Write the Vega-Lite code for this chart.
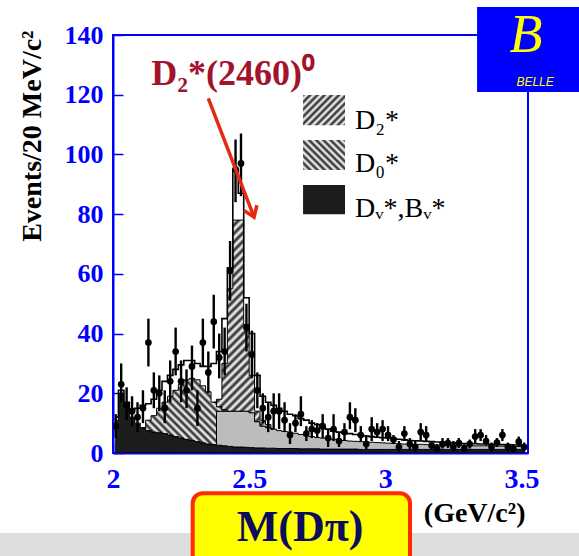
{
"$schema": "https://vega.github.io/schema/vega-lite/v6.json",
"width": 415, "height": 418,
"autosize": {"type": "none"},
"padding": {"left": 113, "top": 35, "right": 51, "bottom": 103},
"background": "#ffffff",
"config": {
 "view": {"stroke": "#0000ff", "strokeWidth": 2},
 "axis": {"grid": false, "domainColor": "#0000ff", "domainWidth": 2, "tickColor": "#0000ff", "tickWidth": 1.5, "labelColor": "#0000ff", "labelFont": "Liberation Serif", "labelFontWeight": "bold", "titleFont": "Liberation Serif", "titleFontWeight": "bold", "titleColor": "#000000", "labelOverlap": false, "labelFlush": false}
},
"data": {"values": [
{"m":2.01,"bv":11,"c":11,"d0":11,"d2":11,"fit":12,"n":9,"lo":5,"hi":13},
{"m":2.03,"bv":20,"c":20,"d0":20,"d2":20,"fit":21,"n":23,"lo":17,"hi":30},
{"m":2.05,"bv":15,"c":15,"d0":15,"d2":15,"fit":17,"n":16,"lo":11,"hi":22},
{"m":2.07,"bv":12,"c":12,"d0":12,"d2":12,"fit":14.5,"n":14,"lo":9,"hi":19},
{"m":2.09,"bv":10,"c":10,"d0":10,"d2":10,"fit":15,"n":12,"lo":7,"hi":17},
{"m":2.11,"bv":8.5,"c":8.5,"d0":8.5,"d2":8.5,"fit":16,"n":15,"lo":10,"hi":21},
{"m":2.13,"bv":7.5,"c":7.5,"d0":11,"d2":11,"fit":16.5,"n":37,"lo":29,"hi":45},
{"m":2.15,"bv":7,"c":7,"d0":12.5,"d2":12.5,"fit":18,"n":21,"lo":15,"hi":27},
{"m":2.17,"bv":6.8,"c":6.8,"d0":15,"d2":15,"fit":21,"n":20,"lo":14,"hi":26},
{"m":2.19,"bv":6.5,"c":6.5,"d0":17,"d2":17,"fit":24,"n":15,"lo":10,"hi":21},
{"m":2.21,"bv":6,"c":6,"d0":19,"d2":19,"fit":26,"n":24,"lo":17,"hi":31},
{"m":2.23,"bv":5.5,"c":5.5,"d0":21,"d2":21,"fit":28,"n":34,"lo":26,"hi":42},
{"m":2.25,"bv":5,"c":5,"d0":23,"d2":23,"fit":29.5,"n":24,"lo":17,"hi":31},
{"m":2.27,"bv":4.6,"c":4.6,"d0":24.5,"d2":24.5,"fit":31,"n":21,"lo":15,"hi":28},
{"m":2.29,"bv":4.2,"c":4.2,"d0":25,"d2":25,"fit":31,"n":29,"lo":21,"hi":36},
{"m":2.31,"bv":3.8,"c":3.8,"d0":24.5,"d2":24.5,"fit":30,"n":15,"lo":9,"hi":21},
{"m":2.33,"bv":3.4,"c":3.4,"d0":22.5,"d2":22.5,"fit":29,"n":37,"lo":29,"hi":45},
{"m":2.35,"bv":3,"c":3,"d0":20.5,"d2":20.5,"fit":29,"n":27,"lo":20,"hi":34},
{"m":2.37,"bv":2.8,"c":2.8,"d0":17,"d2":17,"fit":30,"n":44,"lo":35,"hi":53},
{"m":2.39,"bv":2.6,"c":14,"d0":15.5,"d2":18,"fit":34,"n":32,"lo":25,"hi":40},
{"m":2.41,"bv":2.4,"c":14,"d0":14.5,"d2":30,"fit":45,"n":34,"lo":26,"hi":42},
{"m":2.43,"bv":2.2,"c":14,"d0":14,"d2":55,"fit":62,"n":61,"lo":51,"hi":71},
{"m":2.45,"bv":2,"c":14,"d0":14,"d2":78,"fit":95,"n":95,"lo":84,"hi":105},
{"m":2.47,"bv":2,"c":14,"d0":14,"d2":78,"fit":87,"n":97,"lo":86,"hi":107},
{"m":2.49,"bv":1.9,"c":14,"d0":14,"d2":43,"fit":52,"n":42,"lo":34,"hi":50},
{"m":2.51,"bv":1.8,"c":13.5,"d0":13.5,"d2":26,"fit":40,"n":33,"lo":25,"hi":41},
{"m":2.53,"bv":1.7,"c":10.5,"d0":10.5,"d2":14,"fit":26,"n":21,"lo":15,"hi":27},
{"m":2.55,"bv":1.7,"c":9,"d0":9,"d2":11,"fit":19,"n":15,"lo":10,"hi":20},
{"m":2.57,"bv":1.6,"c":8.5,"d0":8.5,"d2":9.5,"fit":17,"n":12,"lo":7,"hi":17},
{"m":2.59,"bv":1.6,"c":8,"d0":8,"d2":8,"fit":16,"n":14,"lo":8,"hi":20},
{"m":2.61,"bv":1.5,"c":7.5,"d0":7.5,"d2":7.5,"fit":15,"n":14,"lo":8,"hi":20},
{"m":2.63,"bv":1.5,"c":7.2,"d0":7.2,"d2":7.2,"fit":14,"n":11,"lo":7,"hi":17},
{"m":2.65,"bv":1.5,"c":7,"d0":7,"d2":7,"fit":13,"n":6,"lo":3,"hi":10},
{"m":2.67,"bv":1.5,"c":6.6,"d0":6.6,"d2":6.6,"fit":12.5,"n":10,"lo":7,"hi":13},
{"m":2.69,"bv":1.4,"c":6.2,"d0":6.2,"d2":6.2,"fit":11.5,"n":13,"lo":9,"hi":19},
{"m":2.71,"bv":1.4,"c":5.8,"d0":5.8,"d2":5.8,"fit":11,"n":6.5,"lo":4,"hi":9},
{"m":2.73,"bv":1.4,"c":5.5,"d0":5.5,"d2":5.5,"fit":10,"n":8,"lo":5,"hi":11},
{"m":2.75,"bv":1.4,"c":5.2,"d0":5.2,"d2":5.2,"fit":9.5,"n":7.5,"lo":5,"hi":10},
{"m":2.77,"bv":1.3,"c":5,"d0":5,"d2":5,"fit":8.5,"n":9,"lo":5,"hi":13},
{"m":2.79,"bv":1.3,"c":4.8,"d0":4.8,"d2":4.8,"fit":8,"n":5,"lo":2,"hi":8},
{"m":2.81,"bv":1.3,"c":4.6,"d0":4.6,"d2":4.6,"fit":7.3,"n":8,"lo":4,"hi":13},
{"m":2.83,"bv":1.3,"c":4.4,"d0":4.4,"d2":4.4,"fit":7,"n":4,"lo":2,"hi":7},
{"m":2.85,"bv":1.3,"c":4.2,"d0":4.2,"d2":4.2,"fit":6.8,"n":7,"lo":4,"hi":10},
{"m":2.87,"bv":1.3,"c":4,"d0":4,"d2":4,"fit":6.5,"n":12,"lo":8,"hi":17},
{"m":2.89,"bv":1.3,"c":3.9,"d0":3.9,"d2":3.9,"fit":6.2,"n":11,"lo":7,"hi":15},
{"m":2.91,"bv":1.2,"c":3.8,"d0":3.8,"d2":3.8,"fit":6,"n":6,"lo":4,"hi":9},
{"m":2.93,"bv":1.2,"c":3.7,"d0":3.7,"d2":3.7,"fit":5.7,"n":3,"lo":1,"hi":6},
{"m":2.95,"bv":1.2,"c":3.6,"d0":3.6,"d2":3.6,"fit":5.5,"n":8,"lo":4,"hi":12},
{"m":2.97,"bv":1.2,"c":3.5,"d0":3.5,"d2":3.5,"fit":5.3,"n":7,"lo":5,"hi":10},
{"m":2.99,"bv":1.2,"c":3.4,"d0":3.4,"d2":3.4,"fit":5.1,"n":8,"lo":4,"hi":11},
{"m":3.01,"bv":1.2,"c":3.3,"d0":3.3,"d2":3.3,"fit":5,"n":6,"lo":4,"hi":9},
{"m":3.03,"bv":1.2,"c":3.2,"d0":3.2,"d2":3.2,"fit":4.8,"n":4.5,"lo":3,"hi":6},
{"m":3.05,"bv":1.2,"c":3.1,"d0":3.1,"d2":3.1,"fit":4.6,"n":2,"lo":0.5,"hi":4},
{"m":3.07,"bv":1.2,"c":3,"d0":3,"d2":3,"fit":4.4,"n":6.5,"lo":4,"hi":9},
{"m":3.09,"bv":1.2,"c":3,"d0":3,"d2":3,"fit":4.2,"n":3,"lo":1,"hi":5},
{"m":3.11,"bv":1.2,"c":2.9,"d0":2.9,"d2":2.9,"fit":4.1,"n":2,"lo":0.5,"hi":4},
{"m":3.13,"bv":1.2,"c":2.9,"d0":2.9,"d2":2.9,"fit":4,"n":7,"lo":4,"hi":10},
{"m":3.15,"bv":1.2,"c":2.8,"d0":2.8,"d2":2.8,"fit":3.9,"n":6,"lo":4,"hi":9},
{"m":3.17,"bv":1.2,"c":2.8,"d0":2.8,"d2":2.8,"fit":3.8,"n":2.5,"lo":1,"hi":4},
{"m":3.19,"bv":1.2,"c":2.7,"d0":2.7,"d2":2.7,"fit":3.7,"n":1.5,"lo":0.5,"hi":3},
{"m":3.21,"bv":1.2,"c":2.7,"d0":2.7,"d2":2.7,"fit":3.6,"n":3,"lo":1.5,"hi":5},
{"m":3.23,"bv":1.2,"c":2.6,"d0":2.6,"d2":2.6,"fit":3.5,"n":3.3,"lo":1.7,"hi":5},
{"m":3.25,"bv":1.2,"c":2.6,"d0":2.6,"d2":2.6,"fit":3.4,"n":2,"lo":0.5,"hi":4},
{"m":3.27,"bv":1.2,"c":2.5,"d0":2.5,"d2":2.5,"fit":3.3,"n":3.3,"lo":1.7,"hi":5},
{"m":3.29,"bv":1.2,"c":2.5,"d0":2.5,"d2":2.5,"fit":3.2,"n":1.5,"lo":0.5,"hi":3},
{"m":3.31,"bv":1.2,"c":2.5,"d0":2.5,"d2":2.5,"fit":3.1,"n":3,"lo":1.5,"hi":4.5},
{"m":3.33,"bv":1.2,"c":2.4,"d0":2.4,"d2":2.4,"fit":3.1,"n":5.5,"lo":3,"hi":8},
{"m":3.35,"bv":1.2,"c":2.4,"d0":2.4,"d2":2.4,"fit":3,"n":6,"lo":4,"hi":8},
{"m":3.37,"bv":1.2,"c":2.4,"d0":2.4,"d2":2.4,"fit":3,"n":4,"lo":2.5,"hi":6},
{"m":3.39,"bv":1.2,"c":2.3,"d0":2.3,"d2":2.3,"fit":2.9,"n":2,"lo":0.5,"hi":3.5},
{"m":3.41,"bv":1.2,"c":2.3,"d0":2.3,"d2":2.3,"fit":2.9,"n":3.5,"lo":2,"hi":5},
{"m":3.43,"bv":1.2,"c":2.3,"d0":2.3,"d2":2.3,"fit":2.8,"n":6,"lo":4,"hi":8},
{"m":3.45,"bv":1.2,"c":2.2,"d0":2.2,"d2":2.2,"fit":2.8,"n":2,"lo":0.5,"hi":3.5},
{"m":3.47,"bv":1.2,"c":2.2,"d0":2.2,"d2":2.2,"fit":2.7,"n":1.5,"lo":0.5,"hi":3},
{"m":3.49,"bv":1.2,"c":2.2,"d0":2.2,"d2":2.2,"fit":2.7,"n":3.8,"lo":2,"hi":5.5},
{"m":3.51,"bv":1.2,"c":2.1,"d0":2.1,"d2":2.1,"fit":2.6,"n":2,"lo":0.5,"hi":3.5}
]},
"layer": [
{"data": {"values": [{}]}, "mark": {"type": "rect", "fill": "#dedede", "clip": false},
 "encoding": {"x": {"datum": 1.5, "type": "quantitative", "scale": {"domain": [2.0, 3.524], "nice": false, "zero": false}, "title": "(GeV/c²)",
   "axis": {"values": [2, 2.5, 3, 3.5], "format": ".1~f", "labelOverlap": false, "labelBound": false, "tickSize": -10,
    "labelFontSize": 28, "labelPadding": 22, "titleFontSize": 28, "titleX": 412, "titleY": 60, "titleAlign": "right", "titleBaseline": "middle"}},
  "x2": {"datum": 4.0},
  "y": {"datum": -26.8, "type": "quantitative", "scale": {"domain": [0, 140], "nice": false}, "title": "Events/20 MeV/c²",
   "axis": {"values": [0,5,10,15,20,25,30,35,40,45,50,55,60,65,70,75,80,85,90,95,100,105,110,115,120,125,130,135,140], "labelOverlap": false,
    "labelExpr": "datum.value % 20 === 0 ? datum.label : ''",
    "tickSize": {"condition": {"test": "datum.value % 20 === 0", "value": -10}, "value": -5},
    "labelFontSize": 26, "labelPadding": 20, "titleFontSize": 28, "titleX": -81, "titleY": -5, "titleAngle": 270, "titleAlign": "right", "titleBaseline": "middle"}},
  "y2": {"datum": -40}}},
{"mark": {"type": "area", "interpolate": "step", "fill": "#1c1c1c", "stroke": "#000000", "strokeWidth": 1, "clip": true},
 "encoding": {"x": {"field": "m", "type": "quantitative", "title": "(GeV/c²)"}, "y": {"field": "bv", "type": "quantitative", "title": "Events/20 MeV/c²"}}},
{"transform": [{"filter": {"field": "m", "gte": 2.37}}],
 "mark": {"type": "area", "interpolate": "step", "fill": "#bcbcbc", "stroke": "#000000", "strokeWidth": 1, "clip": true},
 "encoding": {"x": {"field": "m", "type": "quantitative", "title": "(GeV/c²)"}, "y": {"field": "c", "type": "quantitative", "title": "Events/20 MeV/c²"}, "y2": {"field": "bv"}}},
{"transform": [{"filter": {"field": "m", "range": [2.11, 2.43]}}],
 "mark": {"type": "area", "interpolate": "step", "stroke": "#000000", "strokeWidth": 1, "clip": true,
  "fill": {"gradient": "linear", "x1": 0, "y1": 1, "x2": 1.116, "y2": 0.153, "stops": [
   {"offset":0,"color":"#222"},{"offset":0.025,"color":"#fff"},{"offset":0.05,"color":"#222"},{"offset":0.075,"color":"#fff"},{"offset":0.1,"color":"#222"},{"offset":0.125,"color":"#fff"},{"offset":0.15,"color":"#222"},{"offset":0.175,"color":"#fff"},{"offset":0.2,"color":"#222"},{"offset":0.225,"color":"#fff"},{"offset":0.25,"color":"#222"},{"offset":0.275,"color":"#fff"},{"offset":0.3,"color":"#222"},{"offset":0.325,"color":"#fff"},{"offset":0.35,"color":"#222"},{"offset":0.375,"color":"#fff"},{"offset":0.4,"color":"#222"},{"offset":0.425,"color":"#fff"},{"offset":0.45,"color":"#222"},{"offset":0.475,"color":"#fff"},{"offset":0.5,"color":"#222"},{"offset":0.525,"color":"#fff"},{"offset":0.55,"color":"#222"},{"offset":0.575,"color":"#fff"},{"offset":0.6,"color":"#222"},{"offset":0.625,"color":"#fff"},{"offset":0.65,"color":"#222"},{"offset":0.675,"color":"#fff"},{"offset":0.7,"color":"#222"},{"offset":0.725,"color":"#fff"},{"offset":0.75,"color":"#222"},{"offset":0.775,"color":"#fff"},{"offset":0.8,"color":"#222"},{"offset":0.825,"color":"#fff"},{"offset":0.85,"color":"#222"},{"offset":0.875,"color":"#fff"},{"offset":0.9,"color":"#222"},{"offset":0.925,"color":"#fff"},{"offset":0.95,"color":"#222"},{"offset":0.975,"color":"#fff"},{"offset":1,"color":"#222"}]}},
 "encoding": {"x": {"field": "m", "type": "quantitative", "title": "(GeV/c²)"}, "y": {"field": "d0", "type": "quantitative", "title": "Events/20 MeV/c²"}, "y2": {"field": "c"}}},
{"transform": [{"filter": {"field": "m", "range": [2.37, 2.59]}}],
 "mark": {"type": "area", "interpolate": "step", "stroke": "#000000", "strokeWidth": 1, "clip": true,
  "fill": {"gradient": "linear", "x1": 0, "y1": 0, "x2": 0.341, "y2": 1.189, "stops": [
   {"offset":0,"color":"#222"},{"offset":0.015625,"color":"#fff"},{"offset":0.03125,"color":"#222"},{"offset":0.046875,"color":"#fff"},{"offset":0.0625,"color":"#222"},{"offset":0.078125,"color":"#fff"},{"offset":0.09375,"color":"#222"},{"offset":0.109375,"color":"#fff"},{"offset":0.125,"color":"#222"},{"offset":0.140625,"color":"#fff"},{"offset":0.15625,"color":"#222"},{"offset":0.171875,"color":"#fff"},{"offset":0.1875,"color":"#222"},{"offset":0.203125,"color":"#fff"},{"offset":0.21875,"color":"#222"},{"offset":0.234375,"color":"#fff"},{"offset":0.25,"color":"#222"},{"offset":0.265625,"color":"#fff"},{"offset":0.28125,"color":"#222"},{"offset":0.296875,"color":"#fff"},{"offset":0.3125,"color":"#222"},{"offset":0.328125,"color":"#fff"},{"offset":0.34375,"color":"#222"},{"offset":0.359375,"color":"#fff"},{"offset":0.375,"color":"#222"},{"offset":0.390625,"color":"#fff"},{"offset":0.40625,"color":"#222"},{"offset":0.421875,"color":"#fff"},{"offset":0.4375,"color":"#222"},{"offset":0.453125,"color":"#fff"},{"offset":0.46875,"color":"#222"},{"offset":0.484375,"color":"#fff"},{"offset":0.5,"color":"#222"},{"offset":0.515625,"color":"#fff"},{"offset":0.53125,"color":"#222"},{"offset":0.546875,"color":"#fff"},{"offset":0.5625,"color":"#222"},{"offset":0.578125,"color":"#fff"},{"offset":0.59375,"color":"#222"},{"offset":0.609375,"color":"#fff"},{"offset":0.625,"color":"#222"},{"offset":0.640625,"color":"#fff"},{"offset":0.65625,"color":"#222"},{"offset":0.671875,"color":"#fff"},{"offset":0.6875,"color":"#222"},{"offset":0.703125,"color":"#fff"},{"offset":0.71875,"color":"#222"},{"offset":0.734375,"color":"#fff"},{"offset":0.75,"color":"#222"},{"offset":0.765625,"color":"#fff"},{"offset":0.78125,"color":"#222"},{"offset":0.796875,"color":"#fff"},{"offset":0.8125,"color":"#222"},{"offset":0.828125,"color":"#fff"},{"offset":0.84375,"color":"#222"},{"offset":0.859375,"color":"#fff"},{"offset":0.875,"color":"#222"},{"offset":0.890625,"color":"#fff"},{"offset":0.90625,"color":"#222"},{"offset":0.921875,"color":"#fff"},{"offset":0.9375,"color":"#222"},{"offset":0.953125,"color":"#fff"},{"offset":0.96875,"color":"#222"},{"offset":0.984375,"color":"#fff"},{"offset":1,"color":"#222"}]}},
 "encoding": {"x": {"field": "m", "type": "quantitative", "title": "(GeV/c²)"}, "y": {"field": "d2", "type": "quantitative", "title": "Events/20 MeV/c²"}, "y2": {"field": "d0"}}},
{"mark": {"type": "line", "interpolate": "step", "stroke": "#000000", "strokeWidth": 1.6, "clip": true},
 "encoding": {"x": {"field": "m", "type": "quantitative", "title": "(GeV/c²)"}, "y": {"field": "fit", "type": "quantitative", "title": "Events/20 MeV/c²"}}},
{"mark": {"type": "rule", "stroke": "#000000", "strokeWidth": 2.4, "clip": true},
 "encoding": {"x": {"field": "m", "type": "quantitative", "title": "(GeV/c²)"}, "y": {"field": "lo", "type": "quantitative", "title": "Events/20 MeV/c²"}, "y2": {"field": "hi"}}},
{"mark": {"type": "point", "filled": true, "fill": "#000000", "size": 45, "opacity": 1, "clip": true},
 "encoding": {"x": {"field": "m", "type": "quantitative", "title": "(GeV/c²)"}, "y": {"field": "n", "type": "quantitative", "title": "Events/20 MeV/c²"}}},
{"data": {"values": [{}]},
 "mark": {"type": "rect", "clip": false,
  "fill": {"gradient": "linear", "x1": 0, "y1": 0, "x2": 1.135, "y2": 0.81, "stops": [
   {"offset":0,"color":"#222"},{"offset":0.05,"color":"#fff"},{"offset":0.1,"color":"#222"},{"offset":0.15,"color":"#fff"},{"offset":0.2,"color":"#222"},{"offset":0.25,"color":"#fff"},{"offset":0.3,"color":"#222"},{"offset":0.35,"color":"#fff"},{"offset":0.4,"color":"#222"},{"offset":0.45,"color":"#fff"},{"offset":0.5,"color":"#222"},{"offset":0.55,"color":"#fff"},{"offset":0.6,"color":"#222"},{"offset":0.65,"color":"#fff"},{"offset":0.7,"color":"#222"},{"offset":0.75,"color":"#fff"},{"offset":0.8,"color":"#222"},{"offset":0.85,"color":"#fff"},{"offset":0.9,"color":"#222"},{"offset":0.95,"color":"#fff"},{"offset":1,"color":"#222"}]}},
 "encoding": {"x": {"datum": 2.698}, "x2": {"datum": 2.852}, "y": {"datum": 119.9}, "y2": {"datum": 109.8}}},
{"data": {"values": [{}]},
 "mark": {"type": "rect", "clip": false,
  "fill": {"gradient": "linear", "x1": 0, "y1": 1, "x2": 1.135, "y2": 0.19, "stops": [
   {"offset":0,"color":"#222"},{"offset":0.05,"color":"#fff"},{"offset":0.1,"color":"#222"},{"offset":0.15,"color":"#fff"},{"offset":0.2,"color":"#222"},{"offset":0.25,"color":"#fff"},{"offset":0.3,"color":"#222"},{"offset":0.35,"color":"#fff"},{"offset":0.4,"color":"#222"},{"offset":0.45,"color":"#fff"},{"offset":0.5,"color":"#222"},{"offset":0.55,"color":"#fff"},{"offset":0.6,"color":"#222"},{"offset":0.65,"color":"#fff"},{"offset":0.7,"color":"#222"},{"offset":0.75,"color":"#fff"},{"offset":0.8,"color":"#222"},{"offset":0.85,"color":"#fff"},{"offset":0.9,"color":"#222"},{"offset":0.95,"color":"#fff"},{"offset":1,"color":"#222"}]}},
 "encoding": {"x": {"datum": 2.698}, "x2": {"datum": 2.852}, "y": {"datum": 104.8}, "y2": {"datum": 94.8}}},
{"data": {"values": [{}]},
 "mark": {"type": "rect", "clip": false, "fill": "#1c1c1c"},
 "encoding": {"x": {"datum": 2.698}, "x2": {"datum": 2.852}, "y": {"datum": 89.8}, "y2": {"datum": 80.0}}},
{"data": {"values": [{}]},
 "mark": {"type": "text", "text": "D₂*", "font": "Liberation Serif", "fontSize": 28, "align": "left", "baseline": "alphabetic", "color": "#000000", "clip": false},
 "encoding": {"x": {"datum": 2.889}, "y": {"datum": 108.5}}},
{"data": {"values": [{}]},
 "mark": {"type": "text", "text": "D₀*", "font": "Liberation Serif", "fontSize": 28, "align": "left", "baseline": "alphabetic", "color": "#000000", "clip": false},
 "encoding": {"x": {"datum": 2.889}, "y": {"datum": 94.1}}},
{"data": {"values": [{}]},
 "mark": {"type": "text", "text": "Dᵥ*,Bᵥ*", "font": "Liberation Serif", "fontSize": 28, "align": "left", "baseline": "alphabetic", "color": "#000000", "clip": false},
 "encoding": {"x": {"datum": 2.889}, "y": {"datum": 79.0}}},
{"data": {"values": [{}]},
 "mark": {"type": "text", "text": "D₂*(2460)⁰", "font": "Liberation Serif", "fontWeight": "bold", "fontSize": 36, "align": "center", "baseline": "alphabetic", "color": "#a3142c", "clip": false},
 "encoding": {"x": {"datum": 2.441}, "y": {"datum": 123.2}}},
{"data": {"values": [{}]},
 "mark": {"type": "rule", "stroke": "#e42a10", "strokeWidth": 3.5, "clip": false},
 "encoding": {"x": {"datum": 2.350}, "x2": {"datum": 2.518}, "y": {"datum": 118.8}, "y2": {"datum": 79.0}}},
{"data": {"values": [{}]},
 "mark": {"type": "point", "shape": "M -0.7 -1 L 0 0 L 0.7 -1", "filled": false, "stroke": "#e42a10", "strokeWidth": 3.5, "size": 400, "angle": 338.5, "opacity": 1, "clip": false},
 "encoding": {"x": {"datum": 2.518}, "y": {"datum": 79.0}}},
{"data": {"values": [{}]},
 "mark": {"type": "rect", "fill": "#0000ff", "clip": false},
 "encoding": {"x": {"datum": 3.337}, "x2": {"datum": 3.75}, "y": {"datum": 149.4}, "y2": {"datum": 120.9}}},
{"data": {"values": [{}]},
 "mark": {"type": "text", "text": "B", "font": "Liberation Serif", "fontStyle": "italic", "fontSize": 54, "align": "center", "baseline": "middle", "color": "#ffff00", "clip": false},
 "encoding": {"x": {"datum": 3.517}, "y": {"datum": 139.6}}},
{"data": {"values": [{}]},
 "mark": {"type": "text", "text": "BELLE", "font": "Liberation Sans", "fontStyle": "italic", "fontSize": 12, "align": "center", "baseline": "middle", "color": "#ffff00", "clip": false},
 "encoding": {"x": {"datum": 3.55}, "y": {"datum": 124.4}}},
{"data": {"values": [{}]},
 "mark": {"type": "rect", "fill": "#ffff00", "stroke": "#ff2a00", "strokeWidth": 4, "cornerRadius": 10, "clip": false},
 "encoding": {"x": {"datum": 2.2927}, "x2": {"datum": 3.0907}, "y": {"datum": -13.5}, "y2": {"datum": -40}}},
{"data": {"values": [{}]},
 "mark": {"type": "text", "text": "M(Dπ)", "font": "Liberation Serif", "fontWeight": "bold", "fontSize": 44, "align": "center", "baseline": "middle", "color": "#0d0d5e", "clip": false},
 "encoding": {"x": {"datum": 2.687}, "y": {"datum": -25.2}}}
]
}
